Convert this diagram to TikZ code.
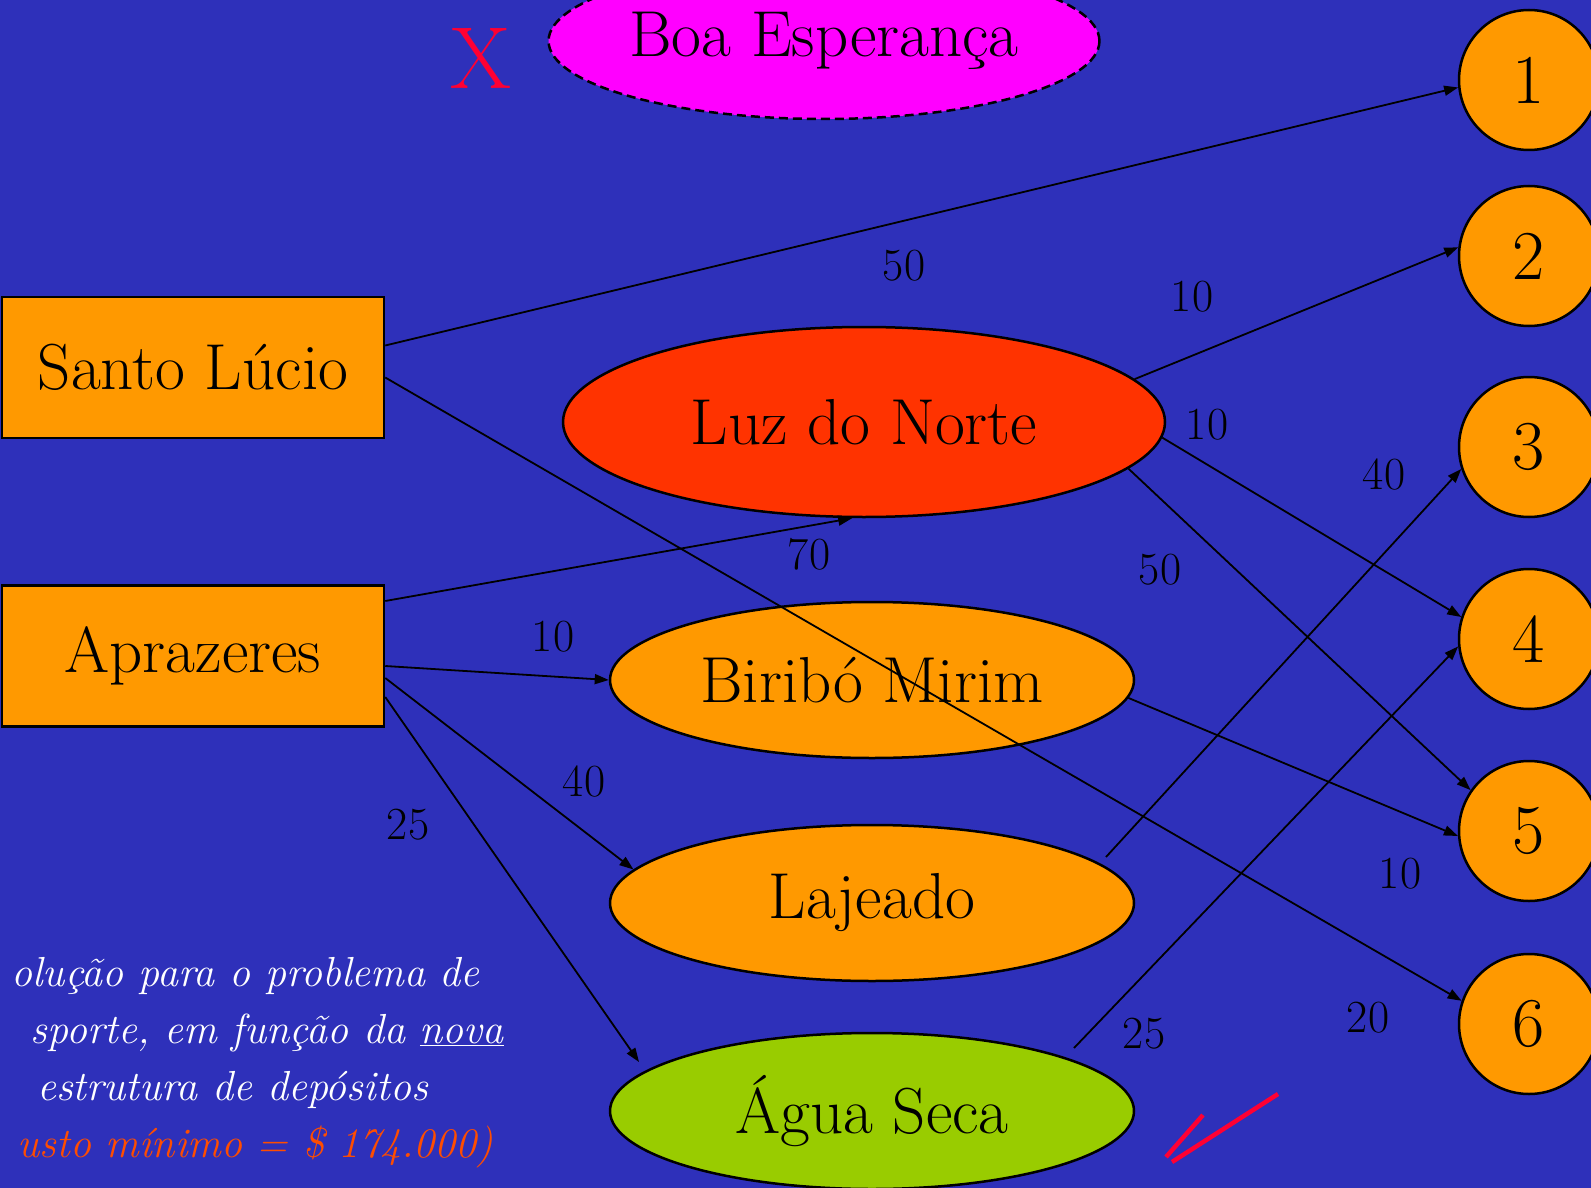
\documentclass[tikz,border=0pt]{standalone}
\usetikzlibrary{shapes.geometric,arrows.meta}

\definecolor{fundo}{RGB}{46,48,186}
\definecolor{laranja}{RGB}{255,153,0}
\definecolor{vermelho}{RGB}{255,51,0}
\definecolor{rosa}{RGB}{255,0,255}
\definecolor{verde}{RGB}{153,204,0}
\definecolor{risco}{RGB}{255,0,51}
\definecolor{custo}{RGB}{255,77,0}

\begin{document}
\begin{tikzpicture}[x=1pt,y=-1pt,every node/.style={inner sep=0pt},
    origem/.style={draw,line width=2.5pt,fill=laranja,minimum width=382pt,minimum height=141pt,font=\fontsize{65}{72}\selectfont},
    deposito/.style={ellipse,draw,line width=2.5pt,minimum width=524pt,minimum height=156pt,font=\fontsize{65}{72}\selectfont},
    cliente/.style={circle,draw,line width=2.5pt,fill=laranja,minimum size=140pt,font=\fontsize{70}{76}\selectfont},
    custoarco/.style={font=\fontsize{46}{50}\selectfont},
    nota/.style={anchor=base east,font=\fontsize{42}{48}\selectfont\itshape},
    arco/.style={-{Triangle[length=14pt,width=10pt]},line width=1.8pt}]
    \useasboundingbox[fill=fundo] (0,0) rectangle (1591,1188);
    % fabricas
    \node[origem] (SL) at (193,367.5) {Santo Lúcio};
    \node[origem] (AP) at (193,656) {Aprazeres};
    % depositos
    \node[deposito,fill=rosa,dash pattern=on 9pt off 5pt,minimum width=526pt] (BE) at (824,41) {Boa Esperança};
    \node[text=risco,font=\fontsize{88}{90}\selectfont] (X) at (481,58) {X};
    \node[deposito,fill=vermelho,minimum width=602pt,minimum height=190pt] (LN) at (864,422) {Luz do Norte};
    \node[deposito,fill=laranja] (BM) at (872,680) {Biribó Mirim};
    \node[deposito,fill=laranja] (LJ) at (872,903) {Lajeado};
    \node[deposito,fill=verde] (AS) at (872,1111) {Água Seca};
    % clientes
    \node[cliente] (1) at (1529,80) {1};
    \node[cliente] (2) at (1529,256) {2};
    \node[cliente] (3) at (1529,447) {3};
    \node[cliente] (4) at (1529,639) {4};
    \node[cliente] (5) at (1529,831) {5};
    \node[cliente] (6) at (1529,1024) {6};
    % arcos
    \draw[arco] ([yshift=22pt]SL.east) -- (1.186);
    \draw[arco] ([yshift=-10pt]SL.east) -- (6.161);
    \draw[arco] (LN.9) -- (2.173);
    \draw[arco] (LN.-3) -- (4.162);
    \draw[arco] (LN.-10) -- (5.145);
    \draw[arco] ([yshift=55pt]AP.east) -- (LN.263);
    \draw[arco] ([yshift=-10pt]AP.east) -- (BM.west);
    \draw[arco] ([yshift=-22pt]AP.east) -- (LJ.172);
    \draw[arco] ([yshift=-41pt]AP.east) -- ([shift={(-233,-49)}]AS.center);
    \draw[arco] (BM.-4) -- (5.184);
    \draw[arco] ([shift={(234,-46)}]LJ.center) -- (3.198);
    \draw[arco] ([shift={(202,-63)}]AS.center) -- (4.186);
    % quantidades
    \node[custoarco] (q1) at (904,266) {50};
    \node[custoarco] (q2) at (1192,297) {10};
    \node[custoarco] (q3) at (1207,425) {10};
    \node[custoarco] (q4) at (1384,474) {40};
    \node[custoarco] (q5) at (809,554) {70};
    \node[custoarco] (q6) at (1160,570) {50};
    \node[custoarco] (q7) at (553,637) {10};
    \node[custoarco] (q8) at (584,781) {40};
    \node[custoarco] (q9) at (408,825) {25};
    \node[custoarco] (q10) at (1400,874) {10};
    \node[custoarco] (q11) at (1368,1018) {20};
    \node[custoarco] (q12) at (1144,1034) {25};
    % texto
    \node[nota,text=white] (t1) at (480,986) {olução para o problema de};
    \node[nota,text=white] (t2) at (504,1043) {sporte, em função da \underline{nova}};
    \node[nota,text=white] (t3) at (428,1100) {estrutura de depósitos};
    \node[nota,text=custo] (t4) at (494,1157) {usto mínimo = \$ 174.000)};
    % visto
    \draw[risco,line width=4.5pt] (1203,1115) -- (1166,1157);
    \draw[risco,line width=4.5pt] (1172,1162) -- (1278,1094);
\end{tikzpicture}
\end{document}
